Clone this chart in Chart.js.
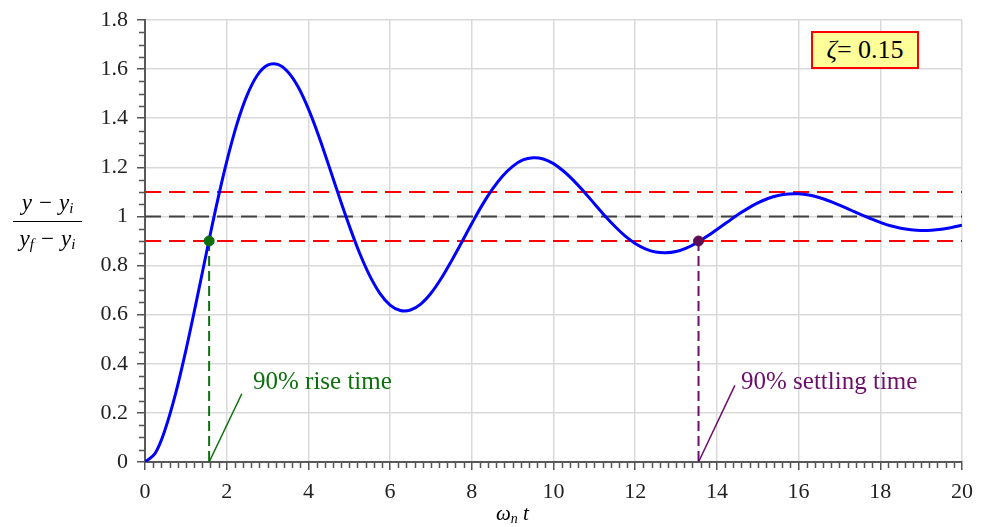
<!DOCTYPE html>
<html>
<head>
<meta charset="utf-8">
<script src="https://cdn.jsdelivr.net/npm/chart.js@4.4.1/dist/chart.umd.min.js"></script>
<style>
  body { margin:0; background:#fff; }
  #wrap { position:relative; width:987px; height:527px; font-family:"Liberation Serif", serif; }
  canvas { position:absolute; left:0; top:0; }
  .ov { position:absolute; white-space:nowrap; }
</style>
</head>
<body>
<div id="wrap">
<canvas id="c" width="987" height="527"></canvas>
<div class="ov" style="left:13px; top:190px; width:69px; text-align:center; font-size:23px; font-style:italic; line-height:26px;">y − y<sub style="font-size:15px;vertical-align:-3px;">i</sub></div>
<div class="ov" style="left:13px; top:221px; width:69px; height:0; border-top:1.6px solid #000;"></div>
<div class="ov" style="left:13px; top:226px; width:69px; text-align:center; font-size:23px; font-style:italic; line-height:26px;">y<sub style="font-size:15px;vertical-align:-3px;">f</sub> − y<sub style="font-size:15px;vertical-align:-3px;">i</sub></div>
<div class="ov" style="left:496px; top:500px; font-size:21px; font-style:italic; line-height:26px;">ω<sub style="font-size:14px;vertical-align:-3px;">n</sub> t</div>
<div class="ov" style="left:811px; top:31px; width:104px; height:34px; background:#ffff99; border:2px solid #ff0000; text-align:center; font-size:26px; line-height:34px; color:#000;"><i>ζ</i>= 0.15</div>
<div class="ov" style="left:253px; top:366px; font-size:25px; color:#0d700d; line-height:30px;">90% rise time</div>
<div class="ov" style="left:741px; top:366px; font-size:25px; color:#6b0f6b; line-height:30px;">90% settling time</div>
</div>
<script>
// ---- data ----
const tValues = [0,0.25,0.5,0.75,1,1.25,1.5,1.75,2,2.25,2.5,2.75,3,3.25,3.5,3.75,4,4.25,4.5,4.75,
  5,5.25,5.5,5.75,6,6.25,6.5,6.75,7,7.25,7.5,7.75,8,8.25,8.5,8.75,9,9.25,9.5,9.75,
  10,10.25,10.5,10.75,11,11.25,11.5,11.75,12,12.25,12.5,12.75,13,13.25,13.5,13.75,14,14.25,14.5,14.75,
  15,15.25,15.5,15.75,16,16.25,16.5,16.75,17,17.25,17.5,17.75,18,18.25,18.5,18.75,19,19.25,19.5,19.75,20];
const yValues = [0,0.036,0.136,0.279,0.454,0.648,0.849,1.045,1.223,1.376,1.494,1.575,1.616,1.619,1.588,1.527,1.438,1.329,1.207,1.082,
  0.962,0.852,0.759,0.687,0.639,0.617,0.619,0.643,0.687,0.747,0.818,0.894,0.971,1.045,1.110,1.164,1.204,1.230,1.239,1.234,
  1.215,1.184,1.145,1.100,1.052,1.004,0.960,0.921,0.890,0.868,0.855,0.852,0.857,0.871,0.892,0.918,0.947,0.976,1.006,1.032,
  1.055,1.073,1.085,1.091,1.092,1.087,1.077,1.063,1.046,1.028,1.009,0.992,0.976,0.962,0.952,0.946,0.943,0.944,0.948,0.955,0.964];
const bandLevels = [0.9, 1.1];
const finalLevel = 1.0;
const riseTime = [1.57, 0.9];
const settleTime = [13.55, 0.9];
const riseLeader = [[1.57, 0], [2.37, 0.278]];
const settleLeader = [[13.55, 0], [14.44, 0.312]];
const xTicks = [0,2,4,6,8,10,12,14,16,18,20];
const yTicks = [0,0.2,0.4,0.6,0.8,1,1.2,1.4,1.6,1.8];

const curve = tValues.map((t,i)=>({x:t, y:yValues[i]}));
const hline = (v)=>[{x:0,y:v},{x:20,y:v}];

const minorTicks = {
  id:'minorTicks',
  afterDraw(chart){
    const ctx = chart.ctx, xs = chart.scales.x, ys = chart.scales.y;
    const bottom = chart.chartArea.bottom, left = chart.chartArea.left;
    ctx.save();
    ctx.strokeStyle = '#555'; ctx.lineWidth = 1.5;
    ctx.beginPath();
    for (let i=1;i<100;i++){ if(i%10===0) continue;
      const px = Math.round(xs.getPixelForValue(i*0.2))+0.5;
      ctx.moveTo(px,bottom); ctx.lineTo(px,bottom+6); }
    for (let i=1;i<36;i++){ if(i%4===0) continue;
      const py = Math.round(ys.getPixelForValue(i*0.05))+0.5;
      ctx.moveTo(left-6,py); ctx.lineTo(left,py); }
    ctx.stroke();
    ctx.restore();
  }
};

new Chart(document.getElementById('c'), {
  type:'line',
  data:{ datasets:[
    {data:[{x:riseTime[0],y:riseTime[1]}], showLine:false, pointRadius:5, pointBackgroundColor:'#0d700d', pointBorderColor:'#0d700d', order:0},
    {data:[{x:settleTime[0],y:settleTime[1]}], showLine:false, pointRadius:5, pointBackgroundColor:'#5c0f55', pointBorderColor:'#5c0f55', order:0},
    {data:curve, borderColor:'#0000ff', borderWidth:3, pointRadius:0, tension:0.35, order:1},
    {data:[{x:riseTime[0],y:riseTime[1]},{x:riseTime[0],y:0}], borderColor:'#0d700d', borderWidth:2, borderDash:[10,5], pointRadius:0, order:2},
    {data:[{x:settleTime[0],y:settleTime[1]},{x:settleTime[0],y:0}], borderColor:'#6b0f6b', borderWidth:2, borderDash:[10,5], pointRadius:0, order:2},
    {data:riseLeader.map(p=>({x:p[0],y:p[1]})), borderColor:'#0d700d', borderWidth:1.5, pointRadius:0, order:2},
    {data:settleLeader.map(p=>({x:p[0],y:p[1]})), borderColor:'#6b0f6b', borderWidth:1.5, pointRadius:0, order:2},
    {data:hline(bandLevels[0]), borderColor:'#ff0000', borderWidth:2, borderDash:[16,8], pointRadius:0, order:3},
    {data:hline(bandLevels[1]), borderColor:'#ff0000', borderWidth:2, borderDash:[16,8], pointRadius:0, order:3},
    {data:hline(finalLevel), borderColor:'#404040', borderWidth:2, borderDash:[16,8], pointRadius:0, order:3}
  ]},
  options:{
    responsive:false, animation:false, devicePixelRatio:1,
    layout:{padding:{left:0,right:25,top:18,bottom:0}},
    plugins:{legend:{display:false}, tooltip:{enabled:false}},
    elements:{line:{fill:false}},
    scales:{
      x:{type:'linear', min:0, max:20,
        afterBuildTicks:(s)=>{ s.ticks = xTicks.map(v=>({value:v})); },
        afterFit:(s)=>{ s.height = 65; },
        ticks:{font:{family:'Liberation Serif', size:22, lineHeight:1}, color:'#222', padding:11, maxRotation:0, autoSkip:false},
        grid:{color:'#d9d9d9', lineWidth:1.5, tickColor:'#555', tickLength:8, tickWidth:1.5},
        border:{display:true, color:'#595959', width:2}
      },
      y:{min:0, max:1.8,
        afterBuildTicks:(s)=>{ s.ticks = yTicks.map(v=>({value:v})); },
        afterFit:(s)=>{ s.width = 145; },
        ticks:{font:{family:'Liberation Serif', size:22, lineHeight:1}, color:'#222', padding:9, autoSkip:false,
          callback:(v)=>String(parseFloat(Number(v).toFixed(1)))},
        grid:{color:'#d9d9d9', lineWidth:1.5, tickColor:'#555', tickLength:8, tickWidth:1.5},
        border:{display:true, color:'#595959', width:2}
      }
    }
  },
  plugins:[minorTicks]
});
</script>
</body>
</html>
